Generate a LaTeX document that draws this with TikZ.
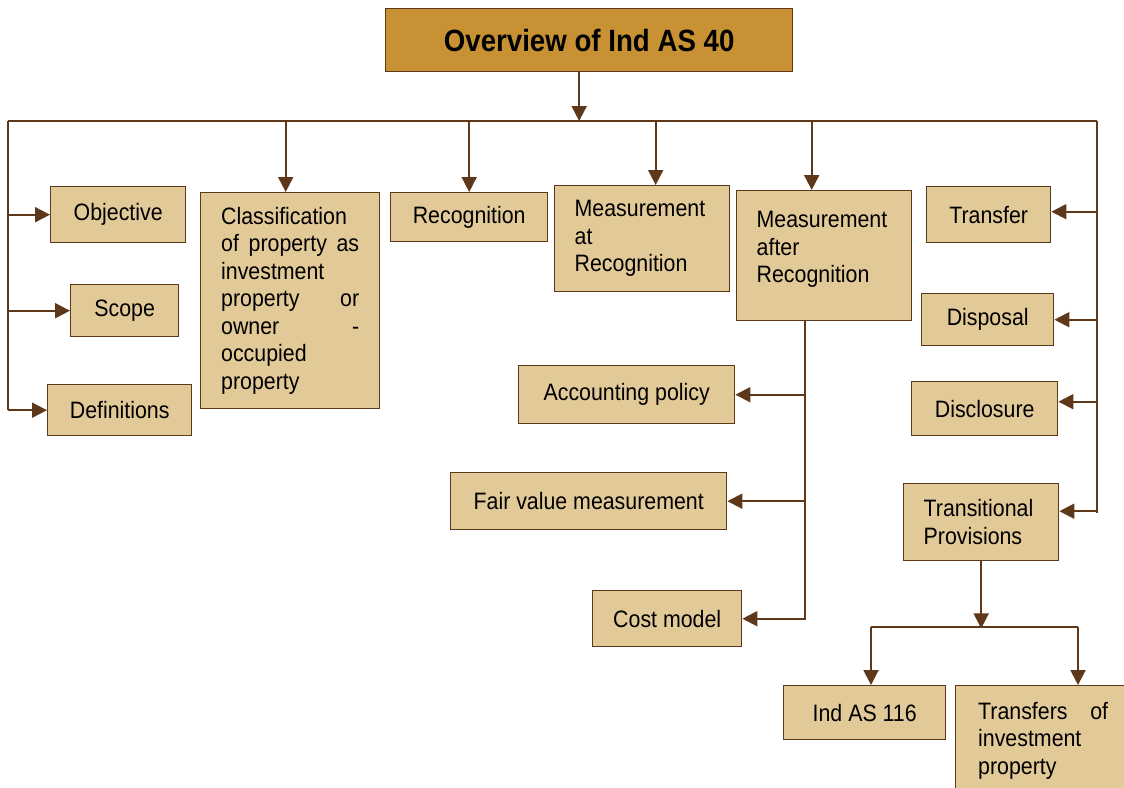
\documentclass[tikz,border=0pt]{standalone}
\usepackage{fontspec}
\setmainfont{Liberation Sans}[FakeStretch=0.9]
\usepackage{tikz}
\usetikzlibrary{arrows.meta}
\usetikzlibrary{calc}

\definecolor{tan}{RGB}{226,201,152}
\definecolor{gold}{RGB}{200,146,52}
\definecolor{brown}{RGB}{95,55,25}

\begin{document}
\begin{tikzpicture}[x=0.02cm,y=-0.02cm,line width=1.1pt,
  box/.style={draw=brown,line width=0.8pt,fill=tan,anchor=north west,inner sep=0pt,
    font=\fontsize{13.5}{15.7}\selectfont},
  tbox/.style={box,align=left},
  link/.style={draw=brown},
  arr/.style={draw=brown,-{Triangle[length=0.3cm,width=0.3cm]}}]

  \clip (0,0) rectangle (1124,787);

  % top
  \node[box,fill=gold,minimum width=8.14cm,minimum height=1.26cm,
        font=\bfseries\fontsize{17.5}{20}\selectfont] at (385,8) (title) {Overview of Ind AS 40};
  \coordinate (busL) at (8,121);
  \coordinate (busR) at (1097,121);

  % left column
  \node[box,minimum width=2.7cm,minimum height=1.12cm] at (50,186) (obj) {Objective};
  \node[box,minimum width=2.16cm,minimum height=1.04cm] at (70,284) (scope) {Scope};
  \node[box,minimum width=2.88cm,minimum height=1.02cm] at (47,384) (defs) {Definitions};

  % middle row
  \node[tbox,text width=2.76cm,minimum width=3.58cm,minimum height=4.32cm] at (200,192) (classif)
    {Classification\\ of\hfill property\hfill as\\ investment\\ property\hfill or\\ owner\hfill -\\ occupied\\ property};
  \node[box,minimum width=3.14cm,minimum height=0.98cm] at (390,192) (recog) {Recognition};
  \node[tbox,text width=2.7cm,minimum width=3.5cm,minimum height=2.12cm] at (554,185) (matrec)
    {Measurement\\ at\\ Recognition};
  \node[tbox,text width=2.7cm,minimum width=3.5cm,minimum height=2.6cm] at (736,190) (mafter)
    {Measurement\\ after\\ Recognition\\[-0.2cm]\mbox{}};

  % after recognition
  \node[box,minimum width=4.32cm,minimum height=1.16cm] at (518,365) (accpol) {Accounting policy};
  \node[box,minimum width=5.52cm,minimum height=1.14cm] at (450,472) (fairval) {Fair value measurement};
  \node[box,minimum width=2.98cm,minimum height=1.12cm] at (592,590) (cost) {Cost model};

  % right column
  \node[box,minimum width=2.48cm,minimum height=1.12cm] at (926,186) (transfer) {Transfer};
  \node[box,minimum width=2.64cm,minimum height=1.04cm] at (921,293) (disposal) {Disposal};
  \node[box,minimum width=2.92cm,minimum height=1.08cm] at (911,381) (discl) {Disclosure};
  \node[tbox,text width=2.3cm,minimum width=3.1cm,minimum height=1.54cm] at (903,483) (transprov)
    {Transitional\\ Provisions};
  \node[box,minimum width=3.24cm,minimum height=1.08cm] at (783,685) (indas) {Ind AS 116};
  \node[tbox,text width=2.6cm,minimum width=3.5cm,minimum height=2.2cm] at (955,685) (transinv)
    {Transfers\hfill of\\ investment\\ property};

  % bus
  \draw[link] (busL) -- (busR);
  \draw[arr] ([xshift=-0.2cm]title.south) -- ([xshift=-0.2cm]title.south |- busL);
  \draw[arr] ([xshift=-0.09cm]classif.north |- busL) -- ([xshift=-0.09cm]classif.north);
  \draw[arr] (recog.north |- busL) -- (recog.north);
  \draw[arr] ([xshift=0.27cm]matrec.north |- busL) -- ([xshift=0.27cm]matrec.north);
  \draw[arr] ([xshift=-0.25cm]mafter.north |- busL) -- ([xshift=-0.25cm]mafter.north);

  % left
  \draw[link] (busL) -- (busL |- defs.west);
  \draw[arr] (obj.west -| busL) -- (obj.west);
  \draw[arr] (scope.west -| busL) -- (scope.west);
  \draw[arr] (defs.west -| busL) -- (defs.west);

  % right
  \coordinate (rend) at ([yshift=0.18cm]transprov.east);
  \draw[link] (busR) -- (busR |- rend);
  \draw[arr] ([yshift=0.06cm]transfer.east -| busR) -- ([yshift=0.06cm]transfer.east);
  \draw[arr] (disposal.east -| busR) -- (disposal.east);
  \draw[arr] ([yshift=0.14cm]discl.east -| busR) -- ([yshift=0.14cm]discl.east);
  \draw[arr] ([yshift=0.22cm]transprov.east -| busR) -- ([yshift=0.22cm]transprov.east);

  % measurement after recognition
  \coordinate (mdrop) at ([xshift=-0.39cm]mafter.south);
  \draw[arr] (mdrop) |- (cost.east);
  \draw[arr] (mdrop |- accpol.east) -- (accpol.east);
  \draw[arr] (mdrop |- fairval.east) -- (fairval.east);

  % transitional provisions
  \coordinate (split) at ([yshift=-1.34cm]transprov.south);
  \coordinate (sl) at (871,627);
  \coordinate (sr) at (1078,627);
  \draw[arr] (transprov.south) -- (split);
  \draw[link] (sl) -- (sr);
  \draw[arr] (sl) -- (sl |- indas.north);
  \draw[arr] (sr) -- (sr |- transinv.north);

\end{tikzpicture}
\end{document}
